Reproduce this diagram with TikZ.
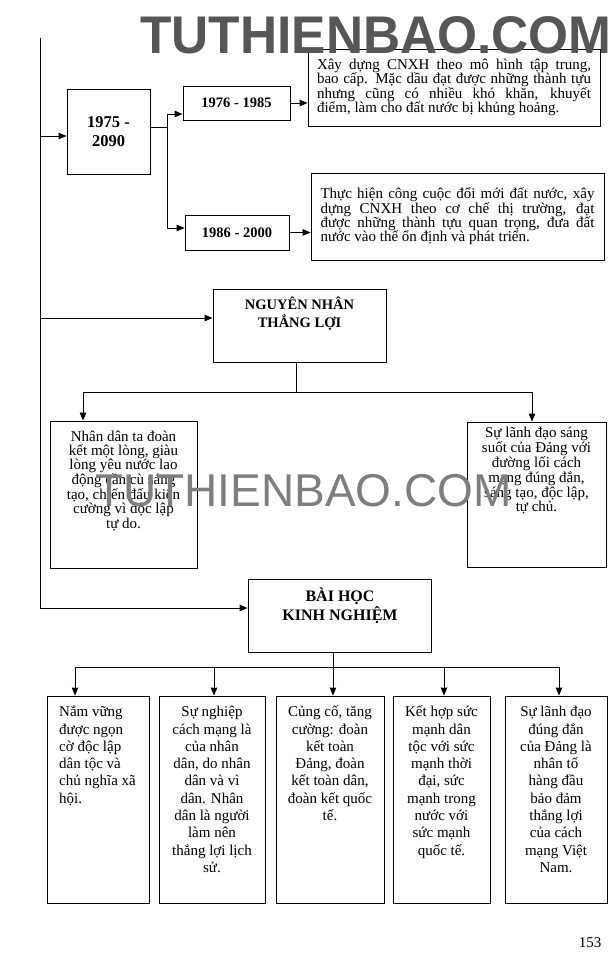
\documentclass[tikz,border=0pt]{standalone}
\usepackage{fontspec}
\setmainfont{Liberation Serif}
\newfontfamily\wmfont{Liberation Sans}
\usetikzlibrary{arrows.meta}
\definecolor{wmdark}{HTML}{565656}
\definecolor{wmlight}{HTML}{7E7E7E}
\newcommand\bodyfont{\fontsize{15}{14.4}\selectfont}
\newcommand\sidefont{\fontsize{15}{13.4}\selectfont}
\newcommand\lowfont{\fontsize{15}{17.3}\selectfont}
\newcommand\jl[1]{\makebox[274pt][s]{#1}}
\newcommand\fst{\rule{0pt}{14pt}}
\begin{document}
\begin{tikzpicture}[x=1pt,y=-1pt,
  box/.style={draw, line width=0.9pt, rectangle, inner sep=0pt},
  ln/.style={line width=0.9pt},
  arr/.style={line width=0.9pt, -{Triangle[length=8pt,width=6.5pt]}},
  txt/.style={inner sep=0pt, align=center}]
\useasboundingbox (0,0) rectangle (615,980);

% main vertical line
\coordinate (m0) at (40,38);
\coordinate (m1) at (40,136);
\coordinate (m2) at (40,318);
\coordinate (m3) at (40,608);

% first block
\node[box, minimum width=83pt, minimum height=85pt, align=center,
      font=\fontsize{16.5}{19}\selectfont\bfseries] (p75) at (108.5,131.5) {1975 -\\2090};
\node[box, minimum width=107pt, minimum height=34pt,
      font=\fontsize{14.5}{16}\selectfont\bfseries] (y76) at (236.5,103) {1976 - 1985};
\node[box, minimum width=104pt, minimum height=35pt,
      font=\fontsize{14.5}{16}\selectfont\bfseries] (y86) at (237,232.5) {1986 - 2000};
\node[box, minimum width=292pt, minimum height=77pt, align=left, font=\bodyfont] (ta) at (454,87.5)
  {\jl{Xây dựng CNXH theo mô hình tập trung,}\\
   \jl{bao cấp. Mặc dầu đạt được những thành tựu}\\
   \jl{nhưng cũng có nhiều khó khăn, khuyết}\\
   điểm, làm cho đất nước bị khủng hoảng.};
\node[box, minimum width=293pt, minimum height=87pt, align=left, font=\bodyfont] (tb) at (457.5,216.5)
  {\jl{Thực hiện công cuộc đổi mới đất nước, xây}\\
   \jl{dựng CNXH theo cơ chế thị trường, đạt}\\
   \jl{được những thành tựu quan trọng, đưa đất}\\
   nước vào thế ổn định và phát triển.};

\draw[ln] (m0) -- (m3);
\draw[arr] (m1) -- (m1 -| p75.west);
\coordinate (j1) at (167,127);
\coordinate (j76) at (167,114);
\coordinate (j86) at (167,228);
\draw[ln] (p75.east |- j1) -- (j1);
\draw[ln] (j76) -- (j86);
\draw[arr] (j76) -- (j76 -| y76.west);
\draw[arr] (j86) -- (j86 -| y86.west);
\draw[arr] (y76.east) -- (y76.east -| ta.west);
\draw[arr] (y86.east) -- (y86.east -| tb.west);

% nguyen nhan
\node[box, minimum width=173pt, minimum height=73pt] (nn) at (299.5,325.5) {};
\node[txt, anchor=north, font=\fontsize{14.5}{18}\selectfont\bfseries] (nnt) at (299.5,295.5)
  {\fst NGUYÊN NHÂN\\THẮNG LỢI};
\draw[arr] (m2) -- (m2 -| nn.west);

\node[box, minimum width=147pt, minimum height=147pt] (lb) at (123.5,494.5) {};
\node[txt, anchor=north, font=\sidefont] (lbt) at (123.5,427.5)
  {\fst Nhân dân ta đoàn\\kết một lòng, giàu\\lòng yêu nước lao\\động cần cù sáng\\tạo, chiến đấu kiên\\cường vì độc lập\\tự do.};
\node[box, minimum width=139pt, minimum height=145pt] (rb) at (536.5,494.5) {};
\node[txt, anchor=north, font=\sidefont] (rbt) at (536.5,423)
  {\fst Sự lãnh đạo sáng\\suốt của Đảng với\\đường lối cách\\mạng đúng đắn,\\sáng tạo, độc lập,\\tự chủ.};

\coordinate (n0) at (296,392);
\coordinate (nl) at (83,392);
\coordinate (nr) at (532,392);
\draw[ln] (nn.south -| n0) -- (n0);
\draw[ln] (nl) -- (nr);
\draw[arr] (nl) -- (nl |- lb.north);
\draw[arr] (nr) -- (nr |- rb.north);

% bai hoc
\node[box, minimum width=183pt, minimum height=73pt] (bh) at (339.5,615.5) {};
\node[txt, anchor=north, font=\fontsize{16}{19}\selectfont\bfseries] (bht) at (340,585.5)
  {\rule{0pt}{16pt}BÀI HỌC\\KINH NGHIỆM};
\draw[arr] (m3) -- (m3 -| bh.west);

\node[box, minimum width=102pt, minimum height=207pt] (b1) at (98,799.5) {};
\node[box, minimum width=106pt, minimum height=207pt] (b2) at (212,799.5) {};
\node[box, minimum width=108pt, minimum height=207pt] (b3) at (330,799.5) {};
\node[box, minimum width=97pt, minimum height=207pt] (b4) at (441.5,799.5) {};
\node[box, minimum width=102pt, minimum height=207pt] (b5) at (556,799.5) {};

\node[inner sep=0pt, align=left, anchor=north west, font=\lowfont] (b1t) at (59,702.5)
  {\fst Nắm vững\\được ngọn\\cờ độc lập\\dân tộc và\\chủ nghĩa xã\\hội.};
\node[txt, anchor=north, font=\lowfont] (b2t) at (212,702.5)
  {\fst Sự nghiệp\\cách mạng là\\của nhân\\dân, do nhân\\dân và vì\\dân. Nhân\\dân là người\\làm nên\\thắng lợi lịch\\sử.};
\node[txt, anchor=north, font=\lowfont] (b3t) at (330,702.5)
  {\fst Củng cố, tăng\\cường: đoàn\\kết toàn\\Đảng, đoàn\\kết toàn dân,\\đoàn kết quốc\\tế.};
\node[txt, anchor=north, font=\lowfont] (b4t) at (441.5,702.5)
  {\fst Kết hợp sức\\mạnh dân\\tộc với sức\\mạnh thời\\đại, sức\\mạnh trong\\nước với\\sức mạnh\\quốc tế.};
\node[txt, anchor=north, font=\lowfont] (b5t) at (556,702.5)
  {\fst Sự lãnh đạo\\đúng đắn\\của Đảng là\\nhân tố\\hàng đầu\\bảo đảm\\thắng lợi\\của cách\\mạng Việt\\Nam.};

\coordinate (h0) at (333,667);
\coordinate (h1) at (75,667);
\coordinate (h2) at (214,667);
\coordinate (h3) at (333,667);
\coordinate (h4) at (444,667);
\coordinate (h5) at (559,667);
\draw[ln] (bh.south -| h0) -- (h0);
\draw[ln] (h1) -- (h5);
\draw[arr] (h1) -- (h1 |- b1.north);
\draw[arr] (h2) -- (h2 |- b2.north);
\draw[arr] (h3) -- (h3 |- b3.north);
\draw[arr] (h4) -- (h4 |- b4.north);
\draw[arr] (h5) -- (h5 |- b5.north);

% page number
\node[inner sep=0pt, font=\fontsize{15}{17}\selectfont] (pg) at (590,943) {153};

% watermarks
\node[inner sep=0pt, anchor=base, text=wmdark, font=\wmfont\fontsize{53}{53}\selectfont\bfseries] (wm1) at (376,53)
  {\scalebox{0.97}[1]{TUTHIENBAO.COM}};
\node[inner sep=0pt, anchor=base, text=wmlight, font=\wmfont\fontsize{46}{46}\selectfont] (wm2) at (303.5,506)
  {TUTHIENBAO.COM};
\end{tikzpicture}
\end{document}
